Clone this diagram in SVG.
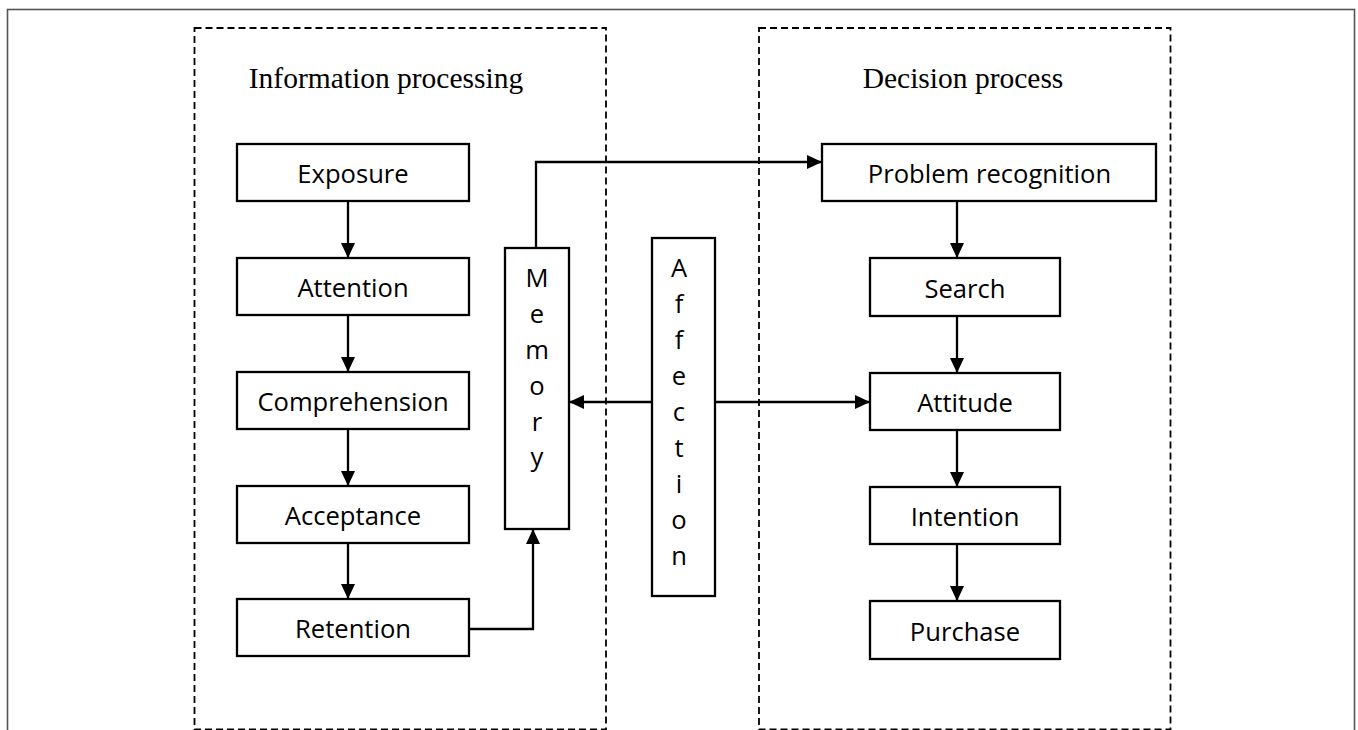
<svg xmlns="http://www.w3.org/2000/svg" width="1358" height="730" viewBox="0 0 1358 730">
<style>
.frame{fill:none;stroke:#555;stroke-width:1.6}
.group{fill:none;stroke:#000;stroke-width:1.8;stroke-dasharray:7,4}
.box{fill:#fff;stroke:#000;stroke-width:2.3}
.lbl{font-family:"Open Sans","Noto Sans",sans-serif;font-size:25.6px;fill:#000;text-anchor:middle}
.title{font-family:"Liberation Serif","Times New Roman",serif;font-size:29.5px;fill:#000;text-anchor:middle}
.conn{fill:none;stroke:#000;stroke-width:2.3}
</style>
<defs>
<marker id="ah" markerWidth="15" markerHeight="14" refX="15" refY="7" orient="auto" markerUnits="userSpaceOnUse">
<path d="M0,0 L15,7 L0,14 Z" fill="#000"/>
</marker>
</defs>
<rect width="1358" height="730" fill="#fff"/>
<rect class="frame" x="7.5" y="9.5" width="1347" height="730"/>
<g id="group-info">
<rect class="group" x="194.5" y="28" width="411.5" height="701.5"/>
<text class="title" x="386" y="88">Information processing</text>
</g>
<g id="group-decision">
<rect class="group" x="759" y="28" width="411.5" height="701.5"/>
<text class="title" x="963" y="88">Decision process</text>
</g>
<g id="exposure"><rect class="box" x="237" y="144" width="232" height="57"/><text class="lbl" x="353" y="183">Exposure</text></g>
<g id="attention"><rect class="box" x="237" y="258" width="232" height="57"/><text class="lbl" x="353" y="297">Attention</text></g>
<g id="comprehension"><rect class="box" x="237" y="372" width="232" height="57"/><text class="lbl" x="353" y="411">Comprehension</text></g>
<g id="acceptance"><rect class="box" x="237" y="486" width="232" height="57"/><text class="lbl" x="353" y="525">Acceptance</text></g>
<g id="retention"><rect class="box" x="237" y="599" width="232" height="57"/><text class="lbl" x="353" y="638">Retention</text></g>
<g id="memory"><rect class="box" x="505" y="248" width="64" height="281"/>
<text class="lbl" x="537" y="287">M</text><text class="lbl" x="537" y="323">e</text><text class="lbl" x="537" y="359">m</text><text class="lbl" x="537" y="395">o</text><text class="lbl" x="537" y="431">r</text><text class="lbl" x="537" y="466">y</text></g>
<g id="affection"><rect class="box" x="652" y="238" width="63" height="358"/>
<text class="lbl" x="679" y="277">A</text><text class="lbl" x="679" y="313">f</text><text class="lbl" x="679" y="349">f</text><text class="lbl" x="679" y="385">e</text><text class="lbl" x="679" y="421">c</text><text class="lbl" x="679" y="457">t</text><text class="lbl" x="679" y="493">i</text><text class="lbl" x="679" y="529">o</text><text class="lbl" x="679" y="565">n</text></g>
<g id="problem-recognition"><rect class="box" x="822" y="144" width="334" height="57"/><text class="lbl" x="989.5" y="183">Problem recognition</text></g>
<g id="search"><rect class="box" x="870" y="258" width="190" height="58"/><text class="lbl" x="965" y="297.5">Search</text></g>
<g id="attitude"><rect class="box" x="870" y="373" width="190" height="57"/><text class="lbl" x="965" y="412">Attitude</text></g>
<g id="intention"><rect class="box" x="870" y="487" width="190" height="57"/><text class="lbl" x="965" y="526">Intention</text></g>
<g id="purchase"><rect class="box" x="870" y="601" width="190" height="58"/><text class="lbl" x="965" y="640.5">Purchase</text></g>
<g id="connectors">
<line class="conn" x1="348" y1="201" x2="348" y2="258" marker-end="url(#ah)"/>
<line class="conn" x1="348" y1="315" x2="348" y2="372" marker-end="url(#ah)"/>
<line class="conn" x1="348" y1="429" x2="348" y2="486" marker-end="url(#ah)"/>
<line class="conn" x1="348" y1="543" x2="348" y2="599" marker-end="url(#ah)"/>
<polyline class="conn" points="469,629 533,629 533,529" marker-end="url(#ah)"/>
<polyline class="conn" points="536,248 536,162 822,162" marker-end="url(#ah)"/>
<line class="conn" x1="652" y1="402" x2="569" y2="402" marker-end="url(#ah)"/>
<line class="conn" x1="715" y1="402" x2="870" y2="402" marker-end="url(#ah)"/>
<line class="conn" x1="957" y1="201" x2="957" y2="258" marker-end="url(#ah)"/>
<line class="conn" x1="957" y1="316" x2="957" y2="373" marker-end="url(#ah)"/>
<line class="conn" x1="957" y1="430" x2="957" y2="487" marker-end="url(#ah)"/>
<line class="conn" x1="957" y1="544" x2="957" y2="601" marker-end="url(#ah)"/>
</g>
</svg>
